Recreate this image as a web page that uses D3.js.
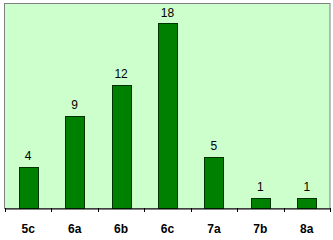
<!DOCTYPE html>
<html><head><meta charset="utf-8">
<script src="https://cdn.jsdelivr.net/npm/d3@7"></script>
<style>html,body{margin:0;padding:0;background:#fff;}svg{display:block;}</style>
</head><body>
<script>
const categories = ["5c","6a","6b","6c","7a","7b","8a"];
const values = [4, 9, 12, 18, 5, 1, 1];
const yMax = 20;

(function(){
const W = 333, H = 240;
const mL = 5, mR = 330, mT = 3, mB = 208;

const svg = d3.select("body").append("svg").attr("width", W).attr("height", H);

const x = d3.scaleBand().domain(categories).range([mL, mR]).paddingInner(0).paddingOuter(0);
const y = d3.scaleLinear().domain([0, yMax]).range([mB, mT]);

svg.append("rect").attr("x", mL - 0.5).attr("y", mT + 0.5)
  .attr("width", mR - mL + 0.5).attr("height", mB - mT)
  .attr("fill", "#ccffcc").attr("stroke", "#808080").attr("stroke-width", 1);

const bw = x.bandwidth() * 0.41;
svg.selectAll("rect.bar").data(values).enter().append("rect").attr("class", "bar")
  .attr("x", (d, i) => Math.round(x(categories[i]) + x.bandwidth() / 2 - bw / 2) + 0.5)
  .attr("y", d => Math.round(y(d)) + 0.5)
  .attr("width", Math.round(bw))
  .attr("height", d => Math.round(mB - y(d)))
  .attr("fill", "#008000").attr("stroke", "#003300").attr("stroke-width", 1);

svg.selectAll("text.val").data(values).enter().append("text").attr("class", "val")
  .attr("x", (d, i) => x(categories[i]) + x.bandwidth() / 2)
  .attr("y", d => y(d) - 7)
  .attr("text-anchor", "middle")
  .attr("font-family", "Liberation Sans, Arial, sans-serif").attr("font-size", 12)
  .attr("fill", "#000").text(d => d);

const xAxis = d3.axisBottom(x).tickSize(0).tickFormat(d => d);
const gx = svg.append("g").attr("transform", `translate(0,${mB + 0.5})`).call(xAxis);
gx.select(".domain").attr("stroke", "#000");
gx.selectAll("text").attr("font-family", "Liberation Sans, Arial, sans-serif")
  .attr("font-size", 12).attr("font-weight", "bold").attr("dy", "0").attr("y", 24);

const bounds = categories.map(c => x(c)).concat([mR]);
svg.selectAll("line.tk").data(bounds).enter().append("line").attr("class", "tk")
  .attr("x1", d => Math.round(d) + 0.5).attr("x2", d => Math.round(d) + 0.5)
  .attr("y1", mB).attr("y2", mB + 4)
  .attr("stroke", "#000");
})();
</script>
</body></html>
